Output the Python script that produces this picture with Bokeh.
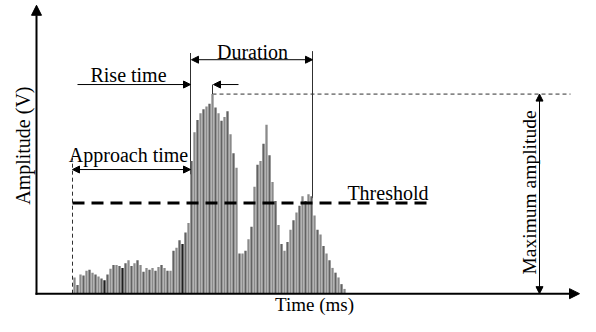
import math
from bokeh.plotting import figure
from bokeh.models import Range1d, Label, Arrow, NormalHead, ColumnDataSource
from bokeh.embed import file_html
from bokeh.resources import INLINE

# ---- data (time in px-like units, amplitude above the time axis) ----
times = [74, 77, 80, 83, 86, 89, 92, 95, 98, 101, 104, 107, 110, 113, 116, 119,
         122, 125, 128, 131, 134, 137, 140, 143, 146, 149, 152, 155, 158, 161,
         164, 167, 170, 173, 176, 179, 182, 185, 188, 191, 194, 197, 200, 203,
         206, 209, 212, 215, 218, 221, 224, 227, 230, 233, 236, 239, 242, 245,
         248, 251, 254, 257, 260, 263, 266, 269, 272, 275, 278, 281, 284, 287,
         290, 293, 296, 299, 302, 305, 308, 311, 314, 317, 320, 323, 326, 329,
         332, 335, 338, 341, 344]
amplitudes = [17, 9, 20, 19, 24, 25, 22, 20, 18, 16, 14, 20, 26, 30, 30, 29,
              27, 32, 35, 29, 32, 35, 30, 23, 27, 25, 27, 24, 28, 30,
              27, 24, 24, 45, 48, 56, 52, 64, 74, 139, 169, 182, 189, 193,
              196, 199, 209, 195, 189, 181, 185, 191, 167, 147, 132, 42, 42, 45,
              57, 70, 112, 135, 139, 157, 177, 145, 117, 97, 72, 52, 45, 54,
              67, 77, 85, 92, 102, 97, 104, 102, 82, 67, 62, 50, 42, 35,
              27, 22, 17, 10, 5]
dark_times = [104, 122, 182]
threshold = 95

title_x = "Time (ms)"
title_y = "Amplitude (V)"
txt_rise = "Rise time"
txt_duration = "Duration"
txt_approach = "Approach time"
txt_threshold = "Threshold"
txt_max = "Maximum amplitude"

# ---- derived quantities ----
t_start = times[0] - 2
above = [i for i, a in enumerate(amplitudes) if a > threshold]
first_cross = times[above[0]] - 1
last_cross = times[above[-1]] + 1
peak_i = max(range(len(amplitudes)), key=lambda i: amplitudes[i])
peak_t = times[peak_i]
peak_a = amplitudes[peak_i]

colors = []
for i, t in enumerate(times):
    if t in dark_times:
        colors.append("#1e1e1e")
    elif i % 2 == 0:
        colors.append("#8a8a8a")
    else:
        colors.append("#626262")

W, H = 580, 316
BASE = 307
YSPAN = H / 0.955
p = figure(width=W, height=H, x_range=Range1d(0, W),
           y_range=Range1d(BASE - YSPAN, BASE),
           x_axis_type=None, y_axis_type=None,
           output_backend="svg", toolbar_location=None, min_border=0)
p.grid.visible = False
p.outline_line_color = None
p.background_fill_color = "white"

FONT = "Liberation Serif"
FS = "20px"
thin = "#303030"

# guide lines (under bars)
p.segment(x0=[t_start], y0=[0], x1=[t_start], y1=[142], line_color=thin,
          line_width=1, line_dash="4 3")
p.segment(x0=[first_cross, last_cross], y0=[125, 100],
          x1=[first_cross, last_cross], y1=[252, 254],
          line_color=thin, line_width=1)
p.segment(x0=[peak_t], y0=[peak_a], x1=[peak_t], y1=[219], line_color=thin, line_width=1)
p.segment(x0=[peak_t], y0=[peak_a], x1=[570], y1=[peak_a], line_color=thin,
          line_width=1, line_dash="4 3")

src = ColumnDataSource(dict(t=times, a=amplitudes, c=colors))
p.vbar(x="t", top="a", bottom=0, width=2.3, fill_color="c", line_color=None, source=src)

# threshold
p.segment(x0=[t_start], y0=[threshold], x1=[428], y1=[threshold],
          line_color="black", line_width=3, line_dash="12 7")

def head(s=7):
    return NormalHead(size=s, fill_color="black", line_color="black", line_width=1)

# axes
p.add_layout(Arrow(end=head(10), start=None, x_start=36, y_start=-1, x_end=36, y_end=302,
                   line_width=2, line_color="black"))
p.add_layout(Arrow(end=head(10), start=None, x_start=35, y_start=0, x_end=579, y_end=0,
                   line_width=2, line_color="black"))

# annotation arrows
p.add_layout(Arrow(end=head(), start=None, x_start=77, y_start=219, x_end=first_cross, y_end=219,
                   line_width=1, line_color="black"))
p.add_layout(Arrow(end=head(), start=None, x_start=238, y_start=219, x_end=peak_t + 1, y_end=219,
                   line_width=1, line_color="black"))
p.add_layout(Arrow(end=head(), start=head(), x_start=first_cross + 1, y_start=245,
                   x_end=last_cross, y_end=245, line_width=1, line_color="black"))
p.add_layout(Arrow(end=head(), start=head(), x_start=t_start, y_start=130,
                   x_end=first_cross, y_end=130, line_width=1, line_color="black"))
p.add_layout(Arrow(end=head(), start=head(), x_start=539, y_start=peak_a,
                   x_end=539, y_end=0, line_width=1, line_color="black"))

# labels
def lab(x, y, text, align="center", baseline="alphabetic", angle=0.0, fs=FS):
    p.add_layout(Label(x=x, y=y, text=text, text_font=FONT, text_font_size=fs,
                       text_color="black", text_align=align, text_baseline=baseline,
                       angle=angle))

lab(22, 155, title_y, baseline="middle", angle=math.pi / 2)
lab(314, -11.8, title_x, baseline="middle", fs="19px")
lab(128, 229, txt_rise)
lab(252, 253, txt_duration)
lab(128, 145, txt_approach)
lab(428, 105, txt_threshold, align="right")
lab(529, 106, txt_max, baseline="middle", angle=math.pi / 2, fs="19.5px")

open("out.html", "w").write(file_html(p, INLINE))
